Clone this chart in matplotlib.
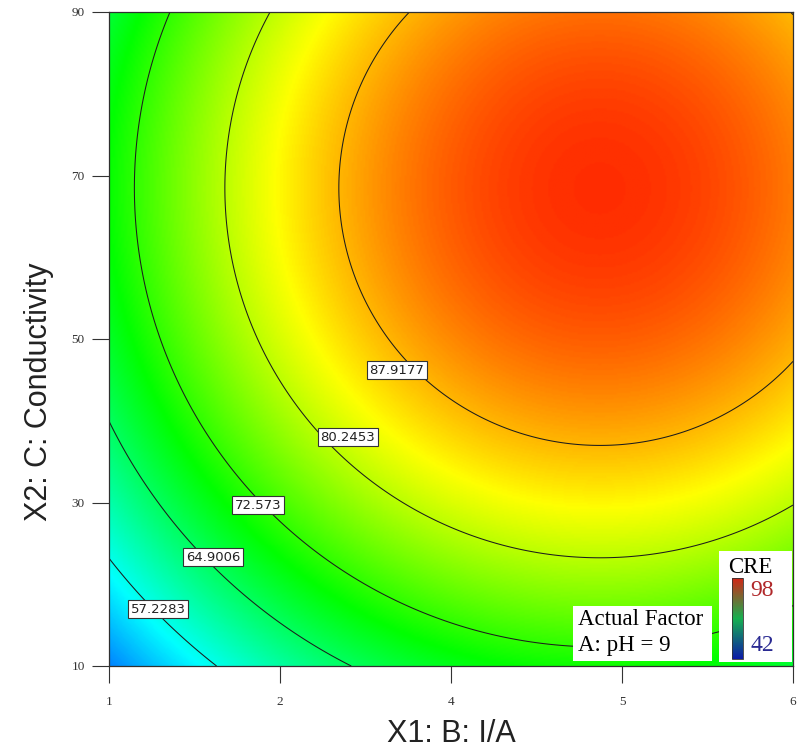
import numpy as np
import matplotlib
matplotlib.use('Agg')
from matplotlib import pyplot as plt
from matplotlib.colors import LinearSegmentedColormap, Normalize
from matplotlib.cm import ScalarMappable
from matplotlib.patches import Rectangle

# factor ranges in actual units
b_range = [1.0, 6.0]      # B: I/A
c_range = [10.0, 90.0]    # C: Conductivity
ph_value = 9

# quadratic model on sqrt(CRE), coded factors: 1, B, C, B^2, C^2, BC
model_coefs = [9.5065, 0.588, 0.5864, -0.675, -0.635, 0.0]

# contour levels (drawn and labelled) and the colour scale limits
levels = [57.2283, 64.9006, 72.573, 80.2453, 87.9177]
cre_low, cre_high = 42, 98

xticks = [1, 2.25, 3.5, 4.75, 6]
xtick_labels = ['1', '2', '4', '5', '6']
yticks = [10, 30, 50, 70, 90]

# label anchor for each contour level (data coords)
label_spots = [(1.358, 16.97), (1.760, 23.33), (2.089, 29.69), (2.747, 38.01), (3.105, 46.2)]


def predict(b, c):
    xb = (b - np.mean(b_range)) / (np.diff(b_range)[0] / 2)
    xc = (c - np.mean(c_range)) / (np.diff(c_range)[0] / 2)
    k = model_coefs
    root = k[0] + k[1]*xb + k[2]*xc + k[3]*xb**2 + k[4]*xc**2 + k[5]*xb*xc
    return root**2


surf_cmap = LinearSegmentedColormap.from_list(
    'de', ['#0000ff', '#00ffff', '#00ff00', '#ffff00', '#ff0000'])
bar_cmap = LinearSegmentedColormap.from_list(
    'de_bar', ['#0c1aa8', '#16b050', '#d22616'])
norm = Normalize(cre_low, cre_high)

bb = np.linspace(b_range[0], b_range[1], 400)
cc = np.linspace(c_range[0], c_range[1], 400)
B, C = np.meshgrid(bb, cc)
Z = predict(B, C)

fig = plt.figure(figsize=(8, 7.52), dpi=100)
ax = fig.add_axes([109/800, 86/752, 684/800, 654/752])

ax.imshow(Z, origin='lower', extent=b_range + c_range, aspect='auto',
          cmap=surf_cmap, norm=norm, interpolation='bilinear', zorder=1)
cs = ax.contour(B, C, Z, levels=levels, colors='#1c1c1c', linewidths=0.75, zorder=2)
for lev, (x, y) in zip(cs.levels, label_spots):
    ax.text(x, y, '%g' % lev, family='DejaVu Sans', fontsize=9.5, color='#222222',
            ha='center', va='center', zorder=4,
            bbox=dict(facecolor='white', edgecolor='#333333', linewidth=0.8,
                      boxstyle='square,pad=0.18'))

ax.set_xlim(b_range)
ax.set_ylim(c_range)
ax.set_xticks(xticks)
ax.set_xticklabels(xtick_labels)
ax.set_yticks(yticks)
ax.tick_params(direction='out', length=12.5, width=0.8, color='#333333',
               labelsize=9.5, labelcolor='#333333')
ax.tick_params(axis='x', pad=9)
ax.tick_params(axis='y', pad=5)
for lab in ax.get_xticklabels() + ax.get_yticklabels():
    lab.set_family('Liberation Serif')
for sp in ax.spines.values():
    sp.set_color('#303030')
    sp.set_linewidth(0.9)

ax.set_xlabel('X1: B: I/A', family='Liberation Sans', fontsize=22, color='#222222')
ax.set_ylabel('X2: C: Conductivity', family='Liberation Sans', fontsize=22, color='#222222')
ax.xaxis.set_label_coords(0.5, -0.081)
ax.yaxis.set_label_coords(-0.080, 0.42)

# factor box
ax.add_patch(Rectangle((0.678, 0.008), 0.204, 0.083, transform=ax.transAxes,
                       facecolor='white', edgecolor='none', zorder=5))
ax.text(0.686, 0.071, 'Actual Factor', transform=ax.transAxes, family='Liberation Serif',
        fontsize=16.5, va='center', ha='left', zorder=6)
ax.text(0.686, 0.032, 'A: pH = %d' % ph_value, transform=ax.transAxes,
        family='Liberation Serif', fontsize=16.5, va='center', ha='left', zorder=6)

# colour scale box
ax.add_patch(Rectangle((0.892, 0.006), 0.106, 0.170, transform=ax.transAxes,
                       facecolor='white', edgecolor='none', zorder=5))
ax.text(0.937, 0.151, 'CRE', transform=ax.transAxes, family='Liberation Serif',
        fontsize=16.5, va='center', ha='center', zorder=6)
ax.text(0.955, 0.116, str(cre_high), transform=ax.transAxes, family='Liberation Serif',
        fontsize=17, va='center', ha='center', color='#b0282a', zorder=6)
ax.text(0.955, 0.031, str(cre_low), transform=ax.transAxes, family='Liberation Serif',
        fontsize=17, va='center', ha='center', color='#2a2a92', zorder=6)

cax = fig.add_axes([732/800, 1 - 659/752, 11/800, 81/752])
cb = fig.colorbar(ScalarMappable(norm=norm, cmap=bar_cmap), cax=cax)
cb.set_ticks([])
cb.outline.set_linewidth(0.6)
cb.outline.set_edgecolor('#333333')

fig.savefig('out.png', dpi=100)
